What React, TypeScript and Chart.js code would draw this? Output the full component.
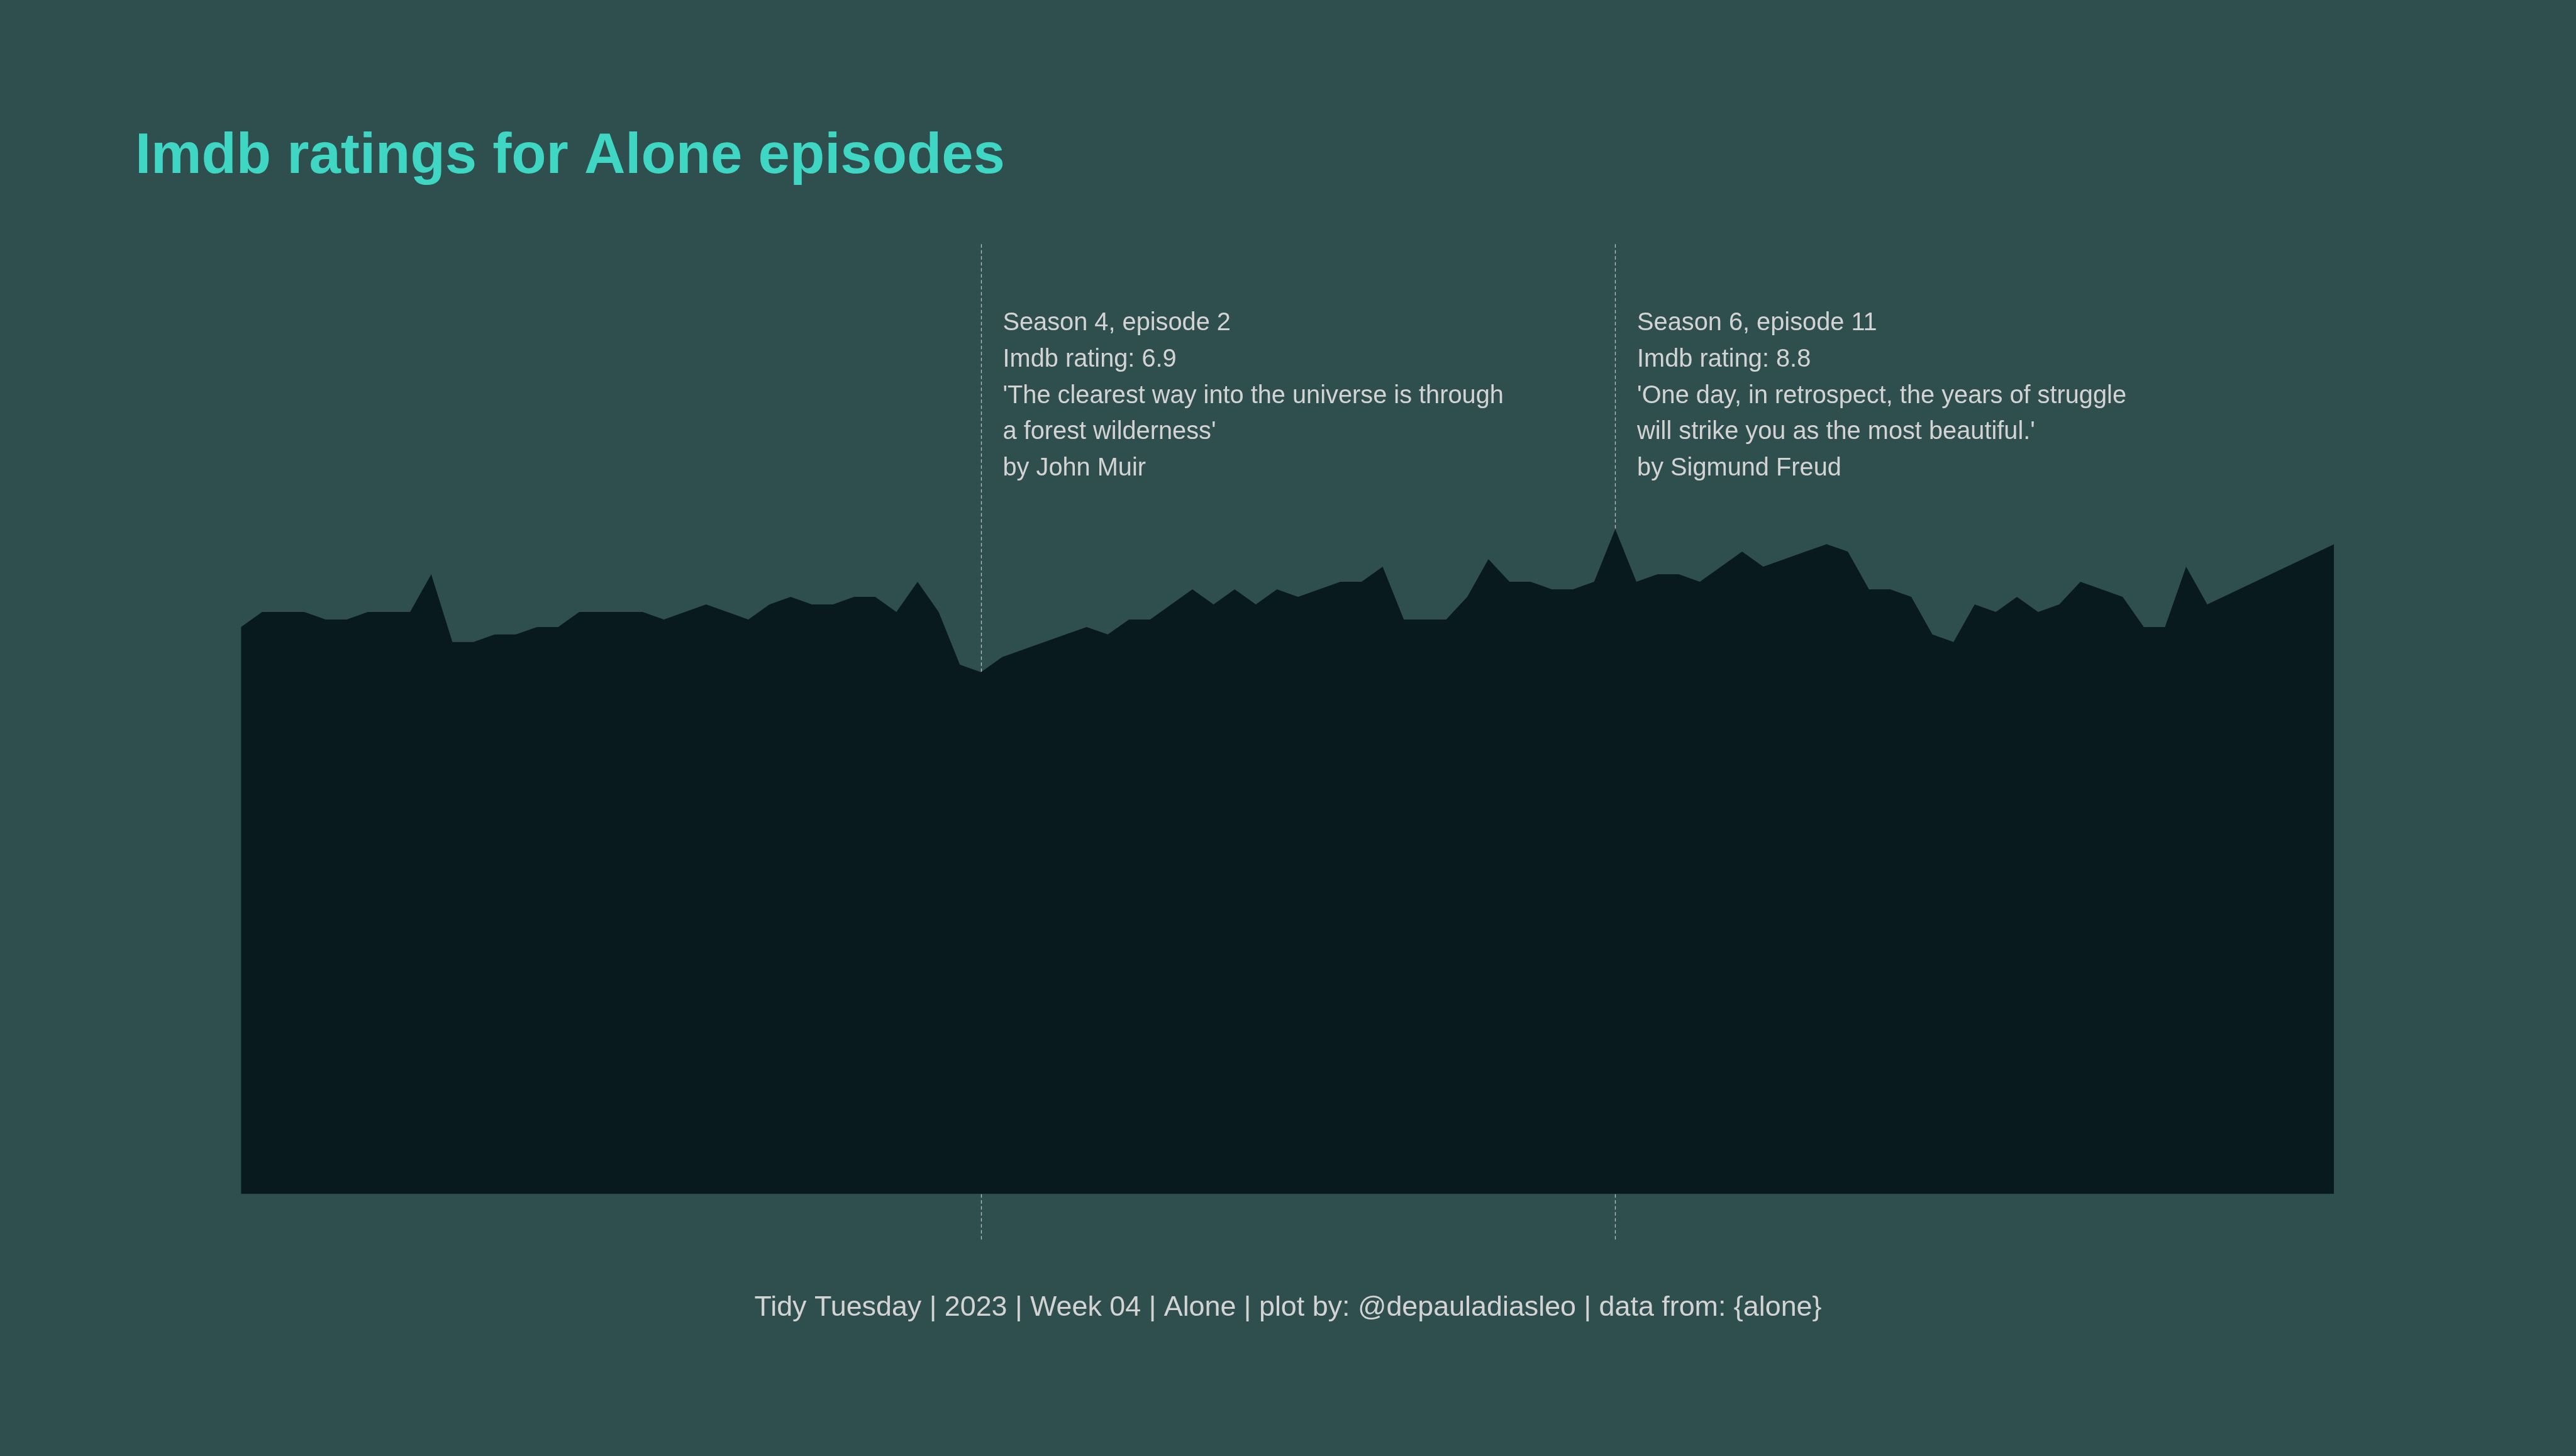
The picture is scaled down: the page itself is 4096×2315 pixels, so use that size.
import React, { useEffect, useRef } from "react";
import { Chart, registerables } from "chart.js";

Chart.register(...registerables);

// ---------------- data ----------------
const ratings: (number | null)[] = [
  7.5, 7.7, 7.7, 7.7, 7.6, 7.6, 7.7, 7.7, 7.7, 8.2,
  7.3, 7.3, 7.4, 7.4, 7.5, 7.5, 7.7, 7.7, 7.7, 7.7,
  7.6, 7.7, 7.8, 7.7, 7.6, 7.8, 7.9, 7.8, 7.8, 7.9,
  7.9, 7.7, 8.1, 7.7, 7.0, 6.9, 7.1, 7.2, 7.3, 7.4,
  7.5, 7.4, 7.6, 7.6, 7.8, 8.0, 7.8, 8.0, 7.8, 8.0,
  7.9, 8.0, 8.1, 8.1, 8.3, 7.6, 7.6, 7.6, 7.9, 8.4,
  8.1, 8.1, 8.0, 8.0, 8.1, 8.8, 8.1, 8.2, 8.2, 8.1,
  8.3, 8.5, 8.3, 8.4, 8.5, 8.6, 8.5, 8.0, 8.0, 7.9,
  7.4, 7.3, 7.8, 7.7, 7.9, 7.7, 7.8, 8.1, 8.0, 7.9,
  7.5, 7.5, 8.3, 7.8, null, null, null, null, null, 8.6,
];
const episodes: string[] = ratings.map((_, i) => String(i + 1));

const annotatedIndex: number[] = [35, 65];
const annotationLines: string[][] = [
  [
    "Season 4, episode 2",
    "Imdb rating: 6.9",
    "'The clearest way into the universe is through",
    "a forest wilderness'",
    "by John Muir",
  ],
  [
    "Season 6, episode 11",
    "Imdb rating: 8.8",
    "'One day, in retrospect, the years of struggle",
    "will strike you as the most beautiful.'",
    "by Sigmund Freud",
  ],
];
const titleText = "Imdb ratings for Alone episodes";
const captionText =
  "Tidy Tuesday | 2023 | Week 04 | Alone | plot by: @depauladiasleo | data from: {alone}";

// ---------------- style ----------------
const S = 0.846;
const W = 4096;
const H = 2315;
const BG = "#2F4F4F";
const AREA = "#091A1F";
const TITLE_COLOR = "#40D6C4";
const TEXT_COLOR = "#D3D3D3";
const FONT = "'Liberation Sans', Arial, sans-serif";

const decoPlugin = {
  id: "deco",
  beforeDraw(chart: any) {
    const ctx = chart.ctx;
    ctx.save();
    ctx.fillStyle = BG;
    ctx.fillRect(0, 0, chart.width, chart.height);
    ctx.restore();
  },
  beforeDatasetsDraw(chart: any) {
    const ctx = chart.ctx;
    const xs = chart.scales.x;
    ctx.save();
    ctx.strokeStyle = "rgba(211,211,211,0.85)";
    ctx.lineWidth = 1.3;
    ctx.setLineDash([5.5, 4]);
    annotatedIndex.forEach((idx) => {
      const x = Math.round(xs.getPixelForValue(idx)) + 0.5;
      ctx.beginPath();
      ctx.moveTo(x, 459 * S);
      ctx.lineTo(x, 2330 * S);
      ctx.stroke();
    });
    ctx.restore();
  },
  afterDraw(chart: any) {
    const ctx = chart.ctx;
    const xs = chart.scales.x;
    ctx.save();
    // title
    ctx.fillStyle = TITLE_COLOR;
    ctx.font = `bold ${107 * S}px ${FONT}`;
    ctx.textAlign = "left";
    ctx.textBaseline = "alphabetic";
    ctx.fillText(titleText, 254 * S, 325 * S);

    // annotations
    ctx.fillStyle = TEXT_COLOR;
    ctx.font = `${47 * S}px ${FONT}`;
    annotatedIndex.forEach((idx, a) => {
      const x = xs.getPixelForValue(idx) + 41 * S;
      annotationLines[a].forEach((line, i) => {
        ctx.fillText(line, x, (620.7 + i * 68.3) * S);
      });
    });

    // caption
    ctx.font = `${53 * S}px ${FONT}`;
    ctx.textAlign = "center";
    ctx.fillText(captionText, W / 2, 2473.3 * S);
    ctx.restore();
  },
};

export default function App() {
  const ref = useRef<HTMLCanvasElement | null>(null);

  useEffect(() => {
    document.body.style.margin = "0";
    document.body.style.background = BG;
    const canvas = ref.current!;
    const bottom = 2244 * S;
    const zeroY = 2240.2 * S;
    const pxPerUnit = 141.58 * S;
    const yMin = -(bottom - zeroY) / pxPerUnit;
    const yMax = 10;
    const top = zeroY - yMax * pxPerUnit;
    const left = 452.9 * S;
    const right = 4387 * S;

    const chart = new Chart(canvas, {
      type: "line",
      data: {
        labels: episodes,
        datasets: [
          {
            data: ratings,
            borderWidth: 0,
            borderColor: AREA,
            backgroundColor: AREA,
            fill: "start",
            pointRadius: 0,
            pointHoverRadius: 0,
            tension: 0,
            spanGaps: true,
          },
        ],
      },
      options: {
        responsive: false,
        animation: false,
        devicePixelRatio: 1,
        events: [],
        layout: {
          padding: {
            left: left,
            right: W - right,
            top: top,
            bottom: H - bottom,
          },
        },
        plugins: {
          legend: { display: false },
          tooltip: { enabled: false },
          title: { display: false },
        },
        scales: {
          x: { type: "category", display: false, offset: false },
          y: { type: "linear", display: false, min: yMin, max: yMax },
        },
      },
      plugins: [decoPlugin],
    });
    return () => chart.destroy();
  }, []);

  return (
    <div style={{ position: "fixed", left: 0, top: 0, width: W, height: H, background: BG }}>
      <canvas ref={ref} width={W} height={H} style={{ display: "block", width: W, height: H }} />
    </div>
  );
}
